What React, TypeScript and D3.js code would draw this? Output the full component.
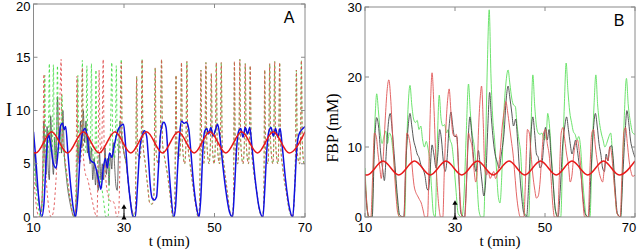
import React from 'react';
import * as d3 from 'd3';

type P = [number, number];

const xTicks = [10, 30, 50, 70];
const yTicksA = [0, 5, 10, 15, 20];
const yTicksB = [0, 10, 20, 30];
const markerT = 30;
const markerTopA = 1.2;
const markerTopB = 2.4;

// forcing (red sinusoid): read peaks and troughs
const forcing: P[] = [[10,6.05],[10.5,6],[14,8],[17.5,6],[21,8],[24.5,6],[28,8],[31.5,6],[35,8],[38.5,6],[42,8],[45.5,6],[49,8],[52.5,6],[56,8],[59.5,6],[63,8],[66.5,6],[70,8]];

// Panel A – blue (mean I)
const blueA: P[] = [[10,8],[10.5,5.5],[11.1,2],[11.8,0],[12.3,1.2],[12.8,5.5],[13.3,7.8],[13.8,6.8],[14.4,5],[15,4.6],[15.5,6.5],[16,8.6],[16.4,8.8],[16.8,8.2],[17.1,8.5],[17.6,6],[18.2,3],[18.8,0.8],[19.3,0],[19.8,2],[20.4,6.5],[20.9,8],[21.4,8.3],[21.9,7.5],[22.4,5.5],[22.9,5.2],[23.4,5.1],[23.9,4.4],[24.4,3.5],[24.9,2.6],[25.4,4.5],[25.9,5.5],[26.3,4.6],[26.8,6],[27.3,5.6],[27.8,6.6],[28.3,7.6],[28.8,8.3],[29.4,8.6],[29.9,8.7],[30.3,7],[30.8,4],[31.4,1.5],[32,0],[32.5,0],[33,3],[33.5,6.5],[34,7.6],[34.5,8.1],[35,7.6],[35.4,5.5],[35.8,3],[36.2,1.8],[36.7,1.6],[37.2,1.9],[37.6,4.5],[38,7.5],[38.4,8.6],[38.8,8.9],[39.3,8.4],[39.7,6],[40.3,2.5],[41,0],[41.4,1],[41.9,5],[42.3,7.8],[42.7,9],[43.3,8.8],[43.8,8.9],[44.3,8.3],[44.8,6],[45.4,3],[46,1],[46.6,0],[47,2],[47.4,6],[47.8,8],[48.3,8.3],[48.7,7.8],[49.2,8.4],[49.7,7.6],[50.2,8.2],[50.7,8.7],[51.2,7.5],[51.8,5],[52.5,2.5],[53.3,0.5],[54,0],[54.4,2.5],[54.9,6.5],[55.3,8],[55.8,8.3],[56.3,7.5],[56.8,8.4],[57.3,7.8],[57.8,8.4],[58.3,6.5],[59,3.5],[59.8,1],[60.7,0],[61.1,2.5],[61.6,6.5],[62,8],[62.5,8.4],[63,7.6],[63.5,8.3],[64,7.5],[64.5,8.3],[65,6.5],[65.7,3.5],[66.5,1],[67.3,0],[67.7,2.5],[68.2,6.5],[68.7,7.8],[69.3,8.2],[70,8.5]];

// Panel A – late spiking part shared by the dashed single-cell traces (they overlap there)
const lateSpikesA: P[] = [[30,6],[30.5,5],[31,3],[31.6,1],[32.2,0],[32.5,0.5],[32.8,13.2],[33,6],[33.5,5.5],[33.8,7],[34,14.8],[34.2,7],[34.7,5],[35.2,3],[35.7,1.3],[36.2,1.2],[36.6,2],[36.9,14],[37.1,6],[37.6,5],[38,7],[38.3,14.8],[38.5,7],[39,5.5],[39.6,4],[40.2,2],[40.8,0],[41.2,0.5],[41.5,13.3],[41.7,6],[42.2,5.5],[42.5,7],[42.7,14.5],[42.9,7],[43.4,5],[43.7,7],[43.9,14.6],[44.1,7],[44.6,5],[45.2,3],[45.8,1.2],[46.4,0],[46.7,1],[47,13.8],[47.2,6],[47.6,5],[47.9,7],[48.1,14.5],[48.3,7],[48.8,5],[49.1,7],[49.3,13.5],[49.5,7],[49.9,5],[50.2,7],[50.4,14.5],[50.6,7],[51.1,5],[51.3,7],[51.5,14.5],[51.7,7],[52.2,4.5],[52.8,2.5],[53.4,0.5],[53.9,0],[54.2,1.5],[54.4,14.6],[54.6,6],[55.1,5],[55.4,7],[55.6,14.8],[55.8,7],[56.3,5],[56.6,7],[56.8,14.4],[57,7],[57.5,5],[57.7,7],[57.9,14.2],[58.1,7],[58.6,4.5],[59.3,2.5],[60,0.5],[60.6,0],[60.9,1.5],[61.1,13.8],[61.3,6],[61.8,5],[62,7],[62.2,14.4],[62.4,7],[62.9,5],[63.1,7],[63.3,14.6],[63.5,7],[64,5],[64.2,7],[64.4,14.5],[64.6,7],[65.1,4.5],[65.8,2.5],[66.6,0.5],[67.2,0],[67.6,1.5],[67.9,6],[68.1,13.8],[68.3,6],[68.8,5],[69,7],[69.2,14.7],[69.4,7],[69.8,5],[70,5.2]];

const greenEarlyA: P[] = [[10,5.5],[10.5,3],[11,1],[11.6,0],[12,2],[12.3,6],[12.5,13.3],[12.7,6],[13,5.5],[13.3,7],[13.5,14.4],[13.7,7],[14,6],[14.2,7],[14.4,14.3],[14.6,7],[14.9,5.5],[15.1,8],[15.3,14.2],[15.5,7],[15.8,6],[16.1,9],[16.3,11.5],[16.5,7],[17,5],[17.6,3],[18.3,1.2],[18.9,0],[19.3,0.5],[19.6,6],[19.8,13.3],[20,6],[20.4,5.5],[20.6,7],[20.8,14.7],[21,7],[21.4,6],[21.6,7],[21.8,14.2],[22,7],[22.4,5.5],[22.6,7],[22.8,14.4],[23,7],[23.4,5],[23.6,6],[23.8,13.8],[24,6],[24.5,4],[25,3],[25.5,1.5],[26,0],[26.5,0],[26.8,5],[27.1,10],[27.3,14.5],[27.5,7],[27.9,5.5],[28.1,7],[28.3,14.2],[28.5,7],[28.9,6],[29.1,8],[29.4,14.8],[29.6,7]];

const redEarlyA: P[] = [[10,4],[10.5,1.5],[11.2,0],[11.8,1],[12.1,6],[12.3,13.4],[12.5,6],[12.9,3],[13.4,0.8],[13.9,0],[14.4,0.5],[14.9,3],[15.3,6],[15.6,8],[15.9,12],[16.1,14.8],[16.3,8],[16.8,6],[17.4,4],[18,2],[18.6,0.3],[19.2,0],[19.4,3],[19.6,13.2],[19.8,6],[20.3,5],[20.6,7],[20.8,14],[21,6],[21.5,4],[22,3.5],[22.5,2.5],[23,1.5],[23.5,0.5],[24,0],[24.3,6],[24.5,13.8],[24.7,7],[25,6],[25.2,9],[25.4,14.8],[25.6,7],[26,3.5],[26.5,2],[27,1.5],[27.5,1.5],[28,1],[28.4,0],[28.8,0.3],[29.1,5],[29.4,14.5],[29.6,7]];

// black single-cell trace, visible where it separates from the dashed ones
const blackA: P[] = [[10,4],[10.3,6],[10.6,3],[11,2.5],[11.3,1],[11.7,0.5],[12,3],[12.3,9],[12.5,6],[12.8,4],[13,8.5],[13.2,5],[13.5,3.5],[13.8,9.5],[14.1,6],[14.4,4],[14.7,7.5],[15,5],[15.3,11.3],[15.6,7],[15.9,8.5],[16.2,6],[16.5,10],[16.8,6],[17.2,4],[17.6,2.5],[18,1.5],[18.5,0.5],[19,0],[19.5,2],[19.8,7],[20.1,5],[20.4,9],[20.7,6.5],[21,10],[21.3,7],[21.6,9],[21.9,6],[22.2,7.5],[22.5,5],[22.8,6.5],[23.1,3.5],[23.4,5.5],[23.7,3],[24,4.5],[24.3,2.5],[24.6,6],[24.9,3.5],[25.2,5],[25.5,3.5],[25.8,6.5],[26.1,4],[26.4,5.5],[26.7,3],[27,6],[27.3,4.5],[27.6,7],[27.9,5],[28.2,3],[28.5,2.5],[28.8,6],[29.1,9],[29.4,8],[29.7,7],[30,6],[30.5,5],[31,3],[31.6,1],[32.2,0]];

// Panel B – FBP traces
const blackB: P[] = [[10,5],[10.5,1],[11,0],[11.6,0],[12.1,10],[12.6,14.2],[13,13],[13.5,9],[14,6.5],[14.3,5.2],[14.8,10],[15.3,14],[15.6,14.8],[16.1,12],[16.6,8],[17.2,3],[17.7,0.3],[18.6,0],[19.1,8],[19.6,13],[20,14.8],[20.4,13],[20.8,11],[21.2,10],[21.6,9],[22,8.5],[22.4,7.5],[22.8,7],[23.3,6],[23.8,4],[24.1,3.8],[24.5,7],[24.9,10.3],[25.3,9],[25.8,7],[26.2,9],[26.6,12.5],[27,11],[27.4,8],[27.8,6.5],[28.2,8],[28.7,13],[29.1,15],[29.5,13],[29.9,11.5],[30.4,11.5],[30.9,5],[31.3,0.5],[32.1,0],[32.5,4],[33,12],[33.3,14.3],[33.7,12],[34.2,8],[34.7,6.5],[35.2,9.5],[35.5,8],[36,5],[36.4,3],[36.8,5],[37.3,13],[37.7,17.8],[38.1,14],[38.5,11],[38.9,9],[39.3,8],[39.8,7],[40.3,9],[40.9,12],[41.4,17],[41.8,18.7],[42.2,17],[42.6,15],[43,13],[43.5,14],[43.9,11],[44.3,7],[44.8,3],[45.3,0.5],[45.9,0],[46.4,5],[46.9,12],[47.3,14.3],[47.7,12],[48.1,9],[48.5,8.5],[48.9,7],[49.3,7.5],[49.8,11],[50.1,12.8],[50.5,11],[50.9,12.5],[51.3,9],[51.8,5],[52.3,1],[52.9,0],[53.4,4],[53.9,10],[54.4,13],[54.8,14.3],[55.2,12.5],[55.6,10.5],[56,9],[56.4,10],[56.8,11],[57.2,9.5],[57.6,7.5],[58,6],[58.4,3],[58.9,0.5],[59.7,0],[60.2,6],[60.7,12],[61.2,14.8],[61.6,13],[62,10.5],[62.4,9],[62.8,7],[63.2,6.5],[63.6,9],[64,8],[64.4,10],[64.8,10.2],[65.2,8],[65.6,4],[66.1,0.5],[66.8,0],[67.3,6],[67.8,12],[68.2,15.2],[68.6,13.5],[69,11],[69.5,9.5],[70,8.5]];

const greenB: P[] = [[10,7],[10.3,3],[10.7,0],[11.5,0],[11.9,8],[12.3,15],[12.6,17.6],[13,15],[13.4,12],[13.8,10.5],[14.2,11.5],[14.6,12.3],[15,10.5],[15.4,12],[15.8,11.5],[16.2,9.5],[16.7,6],[17.2,2],[17.6,0],[18.8,0],[19.2,9],[19.6,16],[20,18.8],[20.4,16],[20.8,14],[21.2,13.5],[21.6,13.8],[22,12.5],[22.4,13],[22.8,11],[23.2,10],[23.6,10.8],[24,9.8],[24.4,8],[24.8,4],[25.2,0.5],[25.6,0],[26,9],[26.5,17.4],[26.9,14],[27.3,13],[27.7,13.2],[28.1,12],[28.5,12.5],[28.9,11],[29.3,10.3],[29.7,8],[30.2,4],[30.7,0.5],[31.5,0],[32,3],[32.5,12],[33,19],[33.4,15],[33.8,12],[34.3,10],[34.8,6],[35.3,1],[35.8,0],[36.4,0],[36.8,10],[37.2,22],[37.6,29.6],[38,20],[38.4,14],[38.8,11],[39.2,7],[39.6,3],[40,2],[40.4,6],[40.8,14],[41.3,19],[41.8,21],[42.2,19],[42.6,17],[43,16],[43.4,15.8],[43.8,13],[44.2,11],[44.6,9],[45,4],[45.5,0.5],[46.4,0],[46.8,10],[47.3,20.3],[47.7,16],[48.1,13],[48.5,12],[48.9,11.8],[49.3,12],[49.8,11],[50.3,12],[50.6,14.8],[51,13],[51.4,9],[51.8,5],[52.3,1],[52.8,0],[53.5,0],[53.9,8],[54.3,16],[54.7,22],[55.1,18],[55.5,15],[55.9,13.5],[56.3,12.2],[56.7,11.8],[57.1,11],[57.5,11.5],[57.9,10],[58.3,6],[58.8,2],[59.2,0],[60,0],[60.4,8],[60.9,16],[61.3,20.3],[61.7,16],[62.1,13.5],[62.5,12],[62.9,11],[63.3,10],[63.7,10.5],[64.2,11.5],[64.6,12],[65,9],[65.5,4],[66,0.5],[66.8,0],[67.2,6],[67.6,14],[68.1,19.8],[68.5,16],[69,13.5],[69.5,12],[70,11.8]];

const redB: P[] = [[10,6],[10.4,2],[10.8,0],[11.3,0],[11.7,6],[12.1,12],[12.5,11.5],[12.9,9],[13.3,7],[13.6,5.5],[14,8],[14.5,14],[14.9,18],[15.3,19.6],[15.7,17],[16.1,12],[16.5,7],[16.9,3],[17.3,0.5],[17.8,0],[18.7,0],[19,7],[19.3,12],[19.7,11.5],[20.1,10],[20.5,7],[20.9,4.5],[21.3,3.5],[21.7,3],[22.1,2.5],[22.5,2],[22.9,1],[23.3,0],[23.9,0],[24.3,10],[24.6,17],[24.9,20.6],[25.3,16],[25.7,9],[26.1,4],[26.5,1],[26.8,0],[27.3,0],[27.6,6],[28,13],[28.4,17],[28.7,18.3],[29.1,15],[29.5,12],[29.9,11.5],[30.3,11.8],[30.8,7],[31.2,2],[31.6,0],[32.2,0],[32.6,6],[33,12],[33.4,11],[33.8,10],[34.2,7],[34.6,5],[34.9,6],[35.2,12],[35.6,17],[35.9,18.7],[36.3,13],[36.6,7],[37,6],[37.4,6.5],[37.8,5.5],[38.2,6],[38.6,6.5],[39,5.5],[39.5,6.5],[40,9],[40.5,13],[40.9,15],[41.3,16.5],[41.7,15],[42.1,13],[42.5,11],[42.9,9],[43.3,6],[43.7,3],[44.1,1],[44.5,0],[45.3,0],[45.7,6],[46.1,12.5],[46.5,12],[46.9,9],[47.3,6],[47.7,4],[48.1,2.7],[48.5,3],[48.9,5],[49.3,9],[49.7,12],[50.1,12.5],[50.5,10.5],[50.9,9],[51.3,6],[51.7,2],[52.1,0],[52.8,0],[53.2,6],[53.6,12],[54,12.8],[54.4,11],[54.8,9],[55.2,7.5],[55.6,5],[56,6],[56.4,9],[56.8,10.5],[57.2,11],[57.6,9.5],[58,6.5],[58.4,2.5],[58.8,0],[59.6,0],[60,7],[60.4,12],[60.8,12.5],[61.2,10],[61.6,8],[62,6.5],[62.4,5.5],[62.8,5],[63.2,7],[63.6,8.5],[64,8],[64.4,10],[64.8,9],[65.2,6],[65.6,3],[66,0.5],[66.7,0],[67.1,6],[67.5,12],[67.9,12.8],[68.3,10.5],[68.7,8],[69.1,6.5],[69.5,5.8],[70,6]];

const tickFont = '"Liberation Sans", Arial, Helvetica, sans-serif';
const labelFont = '"Liberation Serif", "Times New Roman", serif';

interface SeriesDef { data: P[]; color: string; width: number; dash?: string; dashOffset?: number }

function Panel(props: {
  id: string; left: number; right: number; top: number; bottom: number;
  yMax: number; yTicks: number[]; ylabel: string; ylabelX: number; ylabelY: number; ylabelRotate: boolean; ylabelSize: number;
  letter: string; series: SeriesDef[]; markerTop: number;
}) {
  const { id, left, right, top, bottom, yMax, yTicks, ylabel, ylabelX, ylabelY, ylabelRotate, ylabelSize, letter, series, markerTop } = props;
  const x = d3.scaleLinear().domain([10, 70]).range([left, right]);
  const y = d3.scaleLinear().domain([0, yMax]).range([bottom, top]);
  const frame = '#8a8a8a';
  const tl = 4;
  const mx = x(markerT);
  const yTop = y(markerTop);
  const y0 = y(0);
  return (
    <g>
      <defs>
        <clipPath id={`clip-${id}`}>
          <rect x={left} y={top} width={right - left} height={bottom - top} />
        </clipPath>
      </defs>
      <g clipPath={`url(#clip-${id})`}>
        {series.map((s, i) => {
          const line = d3.line<P>().x(d => x(d[0])).y(d => y(d[1])).curve(d3.curveMonotoneX);
          return <path key={i} d={line(s.data) || ''} fill="none" stroke={s.color} strokeWidth={s.width}
            strokeDasharray={s.dash} strokeDashoffset={s.dashOffset} strokeLinejoin="round" />;
        })}
      </g>
      <rect x={left} y={top} width={right - left} height={bottom - top} fill="none" stroke={frame} strokeWidth={1} />
      {xTicks.map(t => (
        <g key={'x' + t}>
          <line x1={x(t)} x2={x(t)} y1={bottom} y2={bottom - tl} stroke={frame} />
          <line x1={x(t)} x2={x(t)} y1={top} y2={top + tl} stroke={frame} />
          <text x={Math.min(x(t), 629)} y={bottom + 15} textAnchor="middle" fontFamily={tickFont} fontSize={13} fill="#000">{t}</text>
        </g>
      ))}
      {yTicks.map(v => (
        <g key={'y' + v}>
          <line x1={left} x2={left + tl} y1={y(v)} y2={y(v)} stroke={frame} />
          <line x1={right} x2={right - tl} y1={y(v)} y2={y(v)} stroke={frame} />
          <text x={left - 3} y={Math.max(y(v), 6)} dy="0.36em" textAnchor="end" fontFamily={tickFont} fontSize={13} fill="#000">{v}</text>
        </g>
      ))}
      <text x={(left + right) / 2} y={246} textAnchor="middle" fontFamily={labelFont} fontSize={15} fill="#000">t (min)</text>
      {ylabelRotate ? (
        <text transform={`translate(${ylabelX},${ylabelY}) rotate(-90)`} textAnchor="middle" fontFamily={labelFont} fontSize={ylabelSize} fill="#000">{ylabel}</text>
      ) : (
        <text x={ylabelX} y={ylabelY} dy="0.35em" textAnchor="middle" fontFamily={labelFont} fontSize={ylabelSize} fill="#000">{ylabel}</text>
      )}
      <text x={right - 16} y={top + 19} textAnchor="middle" fontFamily={tickFont} fontSize={16} fill="#000">{letter}</text>
      {/* stimulus marker */}
      <line x1={mx} x2={mx} y1={yTop + 4} y2={y0 - 1} stroke="#000" strokeWidth={1} />
      <path d={`M${mx},${yTop} L${mx - 2.6},${yTop + 4.5} L${mx + 2.6},${yTop + 4.5} Z`} fill="#000" />
      <path d={`M${mx},${y0 - 2} L${mx - 2.6},${y0 + 2.5} L${mx + 2.6},${y0 + 2.5} Z`} fill="#000" />
    </g>
  );
}

export default function App() {
  const greenA = greenEarlyA.concat(lateSpikesA);
  const redA = redEarlyA.concat(lateSpikesA);
  const seriesA: SeriesDef[] = [
    { data: blackA, color: '#333333', width: 0.7 },
    { data: greenA, color: '#44dd44', width: 0.9, dash: '2.5,2.5' },
    { data: redA, color: '#e05050', width: 0.9, dash: '2.5,2.5', dashOffset: 2.5 },
    { data: blueA, color: '#1010e0', width: 1.5 },
    { data: forcing, color: '#e81a1a', width: 1.5 },
  ];
  const seriesB: SeriesDef[] = [
    { data: greenB, color: '#5ee05e', width: 0.9 },
    { data: blackB, color: '#444444', width: 0.9 },
    { data: redB, color: '#e05555', width: 0.9 },
    { data: forcing, color: '#e81a1a', width: 1.5 },
  ];
  return (
    <svg width={640} height={251} style={{ position: 'absolute', left: 0, top: 0, background: '#fff' }}>
      <rect width={640} height={251} fill="#fff" />
      <Panel id="a" left={33.5} right={305} top={4} bottom={217} yMax={20} yTicks={yTicksA}
        ylabel="I" ylabelX={9} ylabelY={110} ylabelRotate={false} ylabelSize={18} letter="A" series={seriesA} markerTop={markerTopA} />
      <Panel id="b" left={365} right={635} top={7} bottom={217} yMax={30} yTicks={yTicksB}
        ylabel="FBP (mM)" ylabelX={338} ylabelY={128} ylabelRotate={true} ylabelSize={16} letter="B" series={seriesB} markerTop={markerTopB} />
    </svg>
  );
}
